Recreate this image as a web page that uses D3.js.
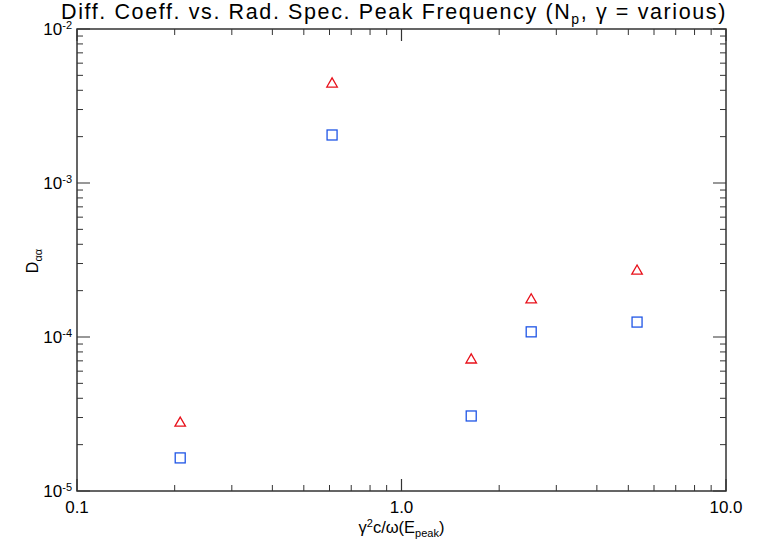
<!DOCTYPE html>
<html>
<head>
<meta charset="utf-8">
<script src="https://cdn.jsdelivr.net/npm/d3@7"></script>
<style>
  body { margin: 0; background: #fff; }
  text { font-family: "Liberation Sans", Arial, sans-serif; fill: #000; }
</style>
</head>
<body>
<div id="chart"></div>
<script>
// values
var xVals = [0.208, 0.611, 1.64, 2.51, 5.32];
var triVals = [2.8e-5, 4.46e-3, 7.2e-5, 1.77e-4, 2.72e-4];
var sqVals = [1.64e-5, 2.05e-3, 3.07e-5, 1.08e-4, 1.25e-4];
var xTickVals = [0.1, 1, 10];
var xTickLabels = ["0.1", "1.0", "10.0"];
var yTickVals = [1e-5, 1e-4, 1e-3, 1e-2];
var yTickExps = ["-5", "-4", "-3", "-2"];

var width = 761, height = 546;
var margin = {top: 29, right: 35, bottom: 55, left: 77};

var svg = d3.select("#chart").append("svg")
    .attr("width", width)
    .attr("height", height);

var x = d3.scaleLog().domain([0.1, 10]).range([margin.left, width - margin.right]),
    y = d3.scaleLog().domain([1e-5, 1e-2]).range([height - margin.bottom, margin.top]);

var axisColor = "#333";

// minor ticks (2..9 each decade)
var xMinor = [], yMinor = [];
[0.1, 1].forEach(function(d) { for (var k = 2; k <= 9; k++) xMinor.push(d * k); });
[1e-5, 1e-4, 1e-3].forEach(function(d) { for (var k = 2; k <= 9; k++) yMinor.push(d * k); });

var g = svg.append("g");

var yb = y(1e-5), yt = y(1e-2), xl = x(0.1), xr = x(10);

// frame
g.append("rect")
    .attr("x", xl).attr("y", yt)
    .attr("width", xr - xl).attr("height", yb - yt)
    .attr("fill", "none").attr("stroke", axisColor).attr("stroke-width", 1.5);

// x ticks, bottom and top
g.selectAll(".xminor").data(xMinor).enter().append("path")
    .attr("d", function(d) { return "M" + x(d) + "," + yb + "v-6M" + x(d) + "," + yt + "v6"; })
    .attr("stroke", axisColor).attr("stroke-width", 1);
g.selectAll(".xmajor").data(xTickVals).enter().append("path")
    .attr("d", function(d) { return "M" + x(d) + "," + yb + "v-12M" + x(d) + "," + yt + "v12"; })
    .attr("stroke", axisColor).attr("stroke-width", 1.2);

// y ticks, left and right
g.selectAll(".yminor").data(yMinor).enter().append("path")
    .attr("d", function(d) { return "M" + xl + "," + y(d) + "h6M" + xr + "," + y(d) + "h-6"; })
    .attr("stroke", axisColor).attr("stroke-width", 1);
g.selectAll(".ymajor").data(yTickVals).enter().append("path")
    .attr("d", function(d) { return "M" + xl + "," + y(d) + "h13M" + xr + "," + y(d) + "h-13"; })
    .attr("stroke", axisColor).attr("stroke-width", 1.2);

// x tick labels
g.selectAll(".xlab").data(xTickVals).enter().append("text")
    .attr("x", function(d) { return x(d); })
    .attr("y", yb + 22)
    .attr("text-anchor", "middle")
    .attr("font-size", 17)
    .text(function(d, i) { return xTickLabels[i]; });

// y tick labels 10^n
var ylab = g.selectAll(".ylab").data(yTickVals).enter().append("text")
    .attr("x", xl - 5)
    .attr("y", function(d) { return y(d) + 6; })
    .attr("text-anchor", "end")
    .attr("font-size", 17);
ylab.append("tspan").text("10");
ylab.append("tspan").attr("dy", -6).attr("font-size", 11).text(function(d, i) { return yTickExps[i]; });

// title, spread to the reference width
var title = svg.append("text")
    .attr("x", 61).attr("y", 19)
    .attr("font-size", 21.5);
title.append("tspan").text("Diff. Coeff. vs. Rad. Spec. Peak Frequency (N");
title.append("tspan").attr("dy", 5).attr("font-size", 14).text("p");
title.append("tspan").attr("dy", -5).text(", \u03b3 = various)");
var tw = title.node().getComputedTextLength();
var nChars = title.text().length;
title.attr("letter-spacing", Math.max(0, (666 - tw) / nChars) + "px");

// x axis title
var xt = svg.append("text")
    .attr("x", (xl + xr) / 2).attr("y", 533)
    .attr("text-anchor", "middle")
    .attr("font-size", 16.5);
xt.append("tspan").text("\u03b3");
xt.append("tspan").attr("dy", -6).attr("font-size", 11).text("2");
xt.append("tspan").attr("dy", 6).text("c/\u03c9(E");
xt.append("tspan").attr("dy", 4).attr("font-size", 11).text("peak");
xt.append("tspan").attr("dy", -4).text(")");

// y axis title
var yt2 = svg.append("text")
    .attr("transform", "translate(38," + ((yt + yb) / 2 + 1) + ") rotate(-90)")
    .attr("text-anchor", "middle")
    .attr("font-size", 16);
yt2.append("tspan").text("D");
yt2.append("tspan").attr("dy", 4).attr("font-size", 11).text("\u03b1\u03b1");

// markers
var tri = d3.symbol().type(d3.symbolTriangle).size(48);
g.selectAll(".tri").data(xVals).enter().append("path")
    .attr("d", tri)
    .attr("transform", function(d, i) { return "translate(" + x(d) + "," + (y(triVals[i]) + 1) + ")"; })
    .attr("fill", "none").attr("stroke", "#e8101a").attr("stroke-width", 1.3);

g.selectAll(".sq").data(xVals).enter().append("rect")
    .attr("x", function(d) { return x(d) - 5; })
    .attr("y", function(d, i) { return y(sqVals[i]) - 5; })
    .attr("width", 10).attr("height", 10)
    .attr("fill", "none").attr("stroke", "#1f55e6").attr("stroke-width", 1.3);
</script>
</body>
</html>
